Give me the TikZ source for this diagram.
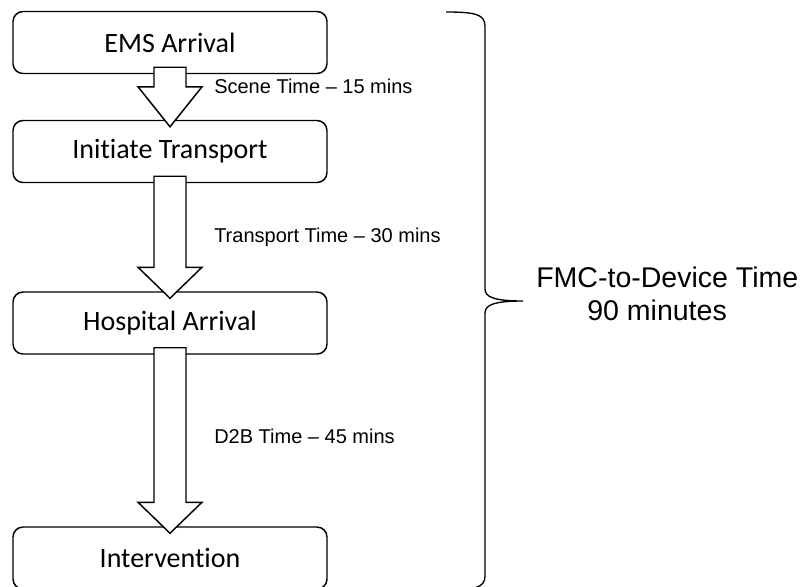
\documentclass[tikz,border=0pt]{standalone}
\usepackage{fontspec}
\setmainfont[Ligatures=NoCommon]{Carlito}
\newfontfamily\arialfont{Liberation Sans}
\usetikzlibrary{calc}

\tikzset{
  stagebox/.style={draw,line width=1.1pt,rounded corners=7.5pt,fill=white,
    minimum width=235.5pt,minimum height=46.5pt,
    font=\fontsize{21pt}{25pt}\selectfont},
  fatarrow/.style={draw,line width=1.1pt,fill=white,line join=miter},
  timelabel/.style={anchor=west,inner sep=0pt,
    font=\arialfont\fontsize{15pt}{18pt}\selectfont},
  totallabel/.style={anchor=base west,inner sep=0pt,
    font=\arialfont\fontsize{21.4pt}{25pt}\selectfont},
}

% block arrow: from node, to node, head length
\newcommand{\fatdown}[3]{%
  \draw[fatarrow] ($(#1.south)+(-16,-7)$) -- ($(#1.south)+(16,-7)$)
    -- ($(#2.north)+(16,7-#3)$) -- ($(#2.north)+(32,7-#3)$)
    -- ($(#2.north)+(0,7)$)
    -- ($(#2.north)+(-32,7-#3)$) -- ($(#2.north)+(-16,7-#3)$) -- cycle;}

\begin{document}
\begin{tikzpicture}[x=0.75pt,y=-0.75pt]
    \useasboundingbox (0,0) rectangle (811,586);
    \clip (0,0) rectangle (811,586);
    % stages
    \node[stagebox] (ems)   at (170,42.5)  {EMS Arrival};
    \node[stagebox] (init)  at (170,151.5) {Initiate Transport};
    \node[stagebox] (hosp)  at (170,323)   {Hospital Arrival};
    \node[stagebox] (interv) at (170,558)  {Intervention};
    % arrows between stages
    \fatdown{ems}{init}{40}
    \fatdown{init}{hosp}{31}
    \fatdown{hosp}{interv}{31}
    % times
    \node[timelabel] (scene) at (214,86)  {Scene Time \textendash{} 15 mins};
    \node[timelabel] (trans) at (214,237) {Transport Time \textendash{} 30 mins};
    \node[timelabel] (dtob)  at (214,436) {D2B Time \textendash{} 45 mins};
    % brace over the whole chain
    \coordinate (tip) at (523,301);
    \draw[line width=1pt] (446,12) .. controls (474,12) and (485,14) .. (485,26)
        -- (485,289) .. controls (485,297) and (494,301) .. (tip)
        .. controls (494,301) and (485,305) .. (485,313)
        -- (485,576) .. controls (485,588) and (474,590) .. (446,590);
    \node[totallabel] (fmc)  at (536,287) {FMC-to-Device Time};
    \node[totallabel] (mins) at (587,320) {90 minutes};
\end{tikzpicture}
\end{document}
